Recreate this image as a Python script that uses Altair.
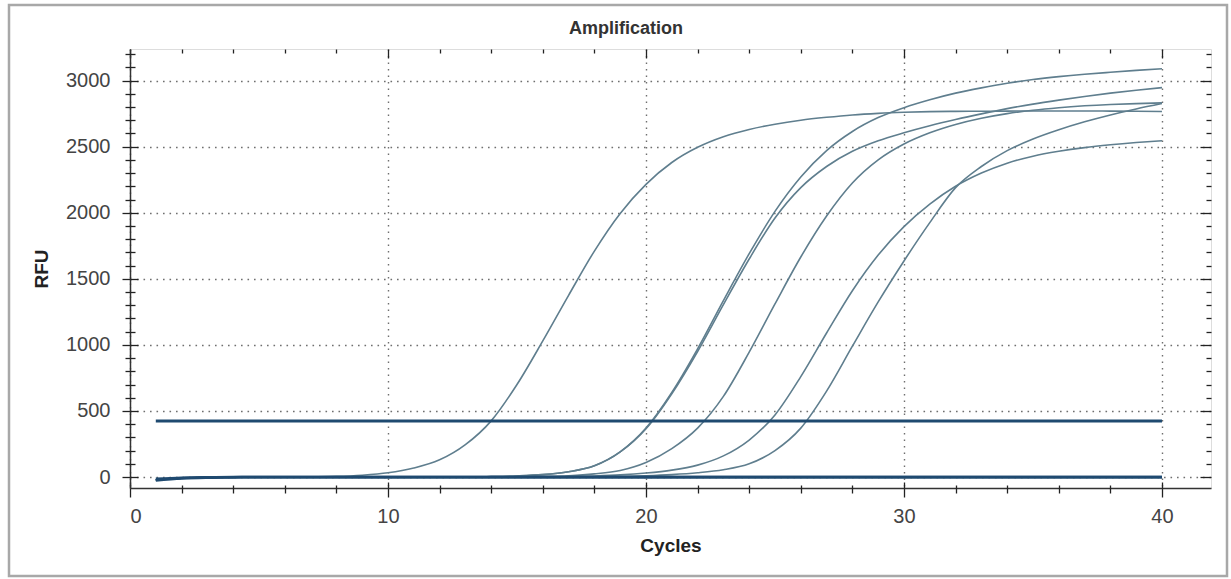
import altair as alt
import pandas as pd

# ---------------- data ----------------
cycles = list(range(1, 41))

curve_a = [-20, -8, -3, 0, 0, 0, 2, 5, 14, 32, 68, 130, 245, 425, 700, 1030, 1375, 1710, 1995, 2215,
           2380, 2495, 2575, 2630, 2670, 2700, 2722, 2740, 2752, 2760, 2765, 2767, 2768, 2769, 2770, 2770,
           2770, 2769, 2768, 2766]
curve_b = [-20, -8, -3, 0, 0, 0, 0, 0, 0, 0, 0, 0, 0, 3, 8, 18, 40, 85, 190, 370,
           640, 970, 1335, 1690, 2010, 2270, 2470, 2615, 2720, 2795, 2855, 2905, 2945, 2980, 3008, 3030,
           3048, 3063, 3077, 3090]
curve_c = [-20, -8, -3, 0, 0, 0, 0, 0, 0, 0, 0, 0, 0, 3, 8, 18, 40, 85, 190, 365,
           630, 950, 1305, 1650, 1960, 2190, 2350, 2465, 2545, 2605, 2658, 2705, 2748, 2788, 2822, 2852,
           2880, 2905, 2927, 2947]
curve_d = [-20, -8, -3, 0, 0, 0, 0, 0, 0, 0, 0, 0, 0, 0, 0, 4, 10, 24, 50, 110,
           215, 370, 610, 945, 1310, 1665, 1975, 2225, 2400, 2520, 2605, 2668, 2715, 2750, 2776, 2795,
           2809, 2819, 2826, 2831]
curve_e = [-20, -8, -3, 0, 0, 0, 0, 0, 0, 0, 0, 0, 0, 0, 0, 0, 3, 8, 16, 30,
           52, 90, 160, 280, 470, 760, 1090, 1410, 1680, 1895, 2065, 2200, 2300, 2375, 2428, 2465,
           2493, 2514, 2531, 2545]
curve_f = [-20, -8, -3, 0, 0, 0, 0, 0, 0, 0, 0, 0, 0, 0, 0, 0, 0, 0, 3, 9,
           18, 32, 55, 100, 200, 370, 650, 990, 1325, 1635, 1925, 2190, 2350, 2470, 2558, 2628,
           2688, 2740, 2785, 2826]
ntc_1 = [-25, -10, -4, -2, 0, 0, 0, 0, 0, 0, 0, 0, 0, 0, 0, 0, 0, 0, 0, 0,
         0, 0, 0, 0, 0, 0, 0, 0, 0, 0, 0, 0, 0, 0, 0, 0, 0, 0, 0, 0]
ntc_2 = [-15, -6, -2, 0, 0, 0, 0, 0, 0, 0, 0, 0, 0, 0, 0, 0, 0, 0, 0, 0,
         0, 0, 0, 0, 0, 0, 0, 0, 0, 0, 0, 0, 0, 0, 0, 0, 0, 0, 0, 0]
threshold_cycles = [1, 40]
threshold_rfu = [424, 424]

chart_title = ["Amplification"]
x_major = [0, 10, 20, 30, 40]
x_minor = [2, 4, 6, 8, 12, 14, 16, 18, 22, 24, 26, 28, 32, 34, 36, 38]
y_major = [0, 500, 1000, 1500, 2000, 2500, 3000]
y_minor = [100, 200, 300, 400, 600, 700, 800, 900, 1100, 1200, 1300, 1400, 1600, 1700, 1800, 1900,
           2100, 2200, 2300, 2400, 2600, 2700, 2800, 2900, 3100, 3200]
x_domain = [0, 41.9]
y_domain = [-83, 3239]

# ---------------- tables ----------------
amp_rows = []
for name, vals in [("A", curve_a), ("B", curve_b), ("C", curve_c), ("D", curve_d), ("E", curve_e), ("F", curve_f)]:
    for c, v in zip(cycles, vals):
        amp_rows.append({"cycle": c, "rfu": v, "well": name})
amp_df = pd.DataFrame(amp_rows)

ntc_rows = []
for name, vals in [("N1", ntc_1), ("N2", ntc_2)]:
    for c, v in zip(cycles, vals):
        ntc_rows.append({"cycle": c, "rfu": v, "well": name})
ntc_df = pd.DataFrame(ntc_rows)

thr_df = pd.DataFrame({"cycle": threshold_cycles, "rfu": threshold_rfu})

NAVY = "#1f4a70"
CURVE = "#5f7e8e"
TICK = "#222222"
FONT = "Liberation Sans"

xs = alt.Scale(domain=x_domain, nice=False, zero=False)
ys = alt.Scale(domain=y_domain, nice=False, zero=False)


def ax(orient, values, size, offset=0, labels=False, title=None, grid=False, domain=False):
    kw = dict(orient=orient, values=values, tickSize=size, offset=offset, labels=labels,
              title=title, grid=grid, domain=domain, tickColor=TICK, tickWidth=1.3)
    if labels:
        kw.update(labelFont=FONT, labelFontSize=20, labelColor="#444444",
                  labelPadding=9 if orient == "bottom" else 12, format="d")
    if title:
        kw.update(titleFont=FONT, titleFontSize=19, titleFontWeight="bold", titleColor="#222222",
                  titlePadding=10 if orient == "bottom" else 14)
    if grid:
        kw.update(gridDash=[1.6, 4.9], gridColor="#6f6f6f", gridWidth=1.4)
    if domain:
        kw.update(domainColor="#333333", domainWidth=1.5)
    return alt.Axis(**kw)


def enc(xaxis, yaxis):
    return dict(
        x=alt.X("cycle:Q", scale=xs, axis=xaxis),
        y=alt.Y("rfu:Q", scale=ys, axis=yaxis),
    )


curves = alt.Chart(amp_df).mark_line(color=CURVE, strokeWidth=1.6, interpolate="monotone").encode(
    detail="well:N",
    **enc(ax("bottom", x_major, 9, labels=True, title="Cycles", grid=True, domain=True),
          ax("left", y_major, 8, labels=True, title="RFU", grid=True, domain=True))
)

ntc = alt.Chart(ntc_df).mark_line(color=NAVY, strokeWidth=2.8, interpolate="monotone").encode(
    detail="well:N",
    **enc(ax("bottom", x_minor, 5), ax("left", y_minor, 5))
)

threshold = alt.Chart(thr_df).mark_line(color=NAVY, strokeWidth=2.8).encode(
    **enc(ax("bottom", x_major, 6, offset=-6), ax("left", y_major, 8, offset=-8))
)

inv1 = alt.Chart(thr_df).mark_line(opacity=0).encode(
    **enc(ax("bottom", x_minor, 3, offset=-3), ax("left", y_minor, 5, offset=-5))
)
inv2 = alt.Chart(thr_df).mark_line(opacity=0).encode(
    **enc(ax("top", x_major, 9, offset=-9), ax("right", y_major, 11, offset=-11))
)
inv3 = alt.Chart(thr_df).mark_line(opacity=0).encode(
    **enc(ax("top", x_minor, 4, offset=-4), ax("right", y_minor, 5, offset=-5))
)

frame = alt.Chart(pd.DataFrame({"k": [0]})).mark_rect(
    fillOpacity=0, stroke="#a8a8a8", strokeWidth=2.5, clip=False
).encode(
    x=alt.value(-121), x2=alt.value(1097), y=alt.value(-44), y2=alt.value(527)
)

title_mark = alt.Chart(pd.DataFrame({"t": chart_title})).mark_text(
    font=FONT, fontSize=18, fontWeight="bold", color="#333333",
    align="center", baseline="alphabetic", clip=False
).encode(
    text="t:N", x=alt.value(496), y=alt.value(-15)
)

chart = alt.layer(curves, ntc, threshold, inv1, inv2, inv3, frame, title_mark).resolve_axis(
    x="independent", y="independent"
).properties(
    width=1081,
    height=439,
    autosize=alt.AutoSizeParams(type="none"),
    padding={"left": 130, "top": 49, "right": 20, "bottom": 91},
).configure_view(
    stroke="#333333", strokeWidth=1.5
).configure(background="white")

chart.save("out.html", embed_options={"renderer": "svg", "actions": False})
